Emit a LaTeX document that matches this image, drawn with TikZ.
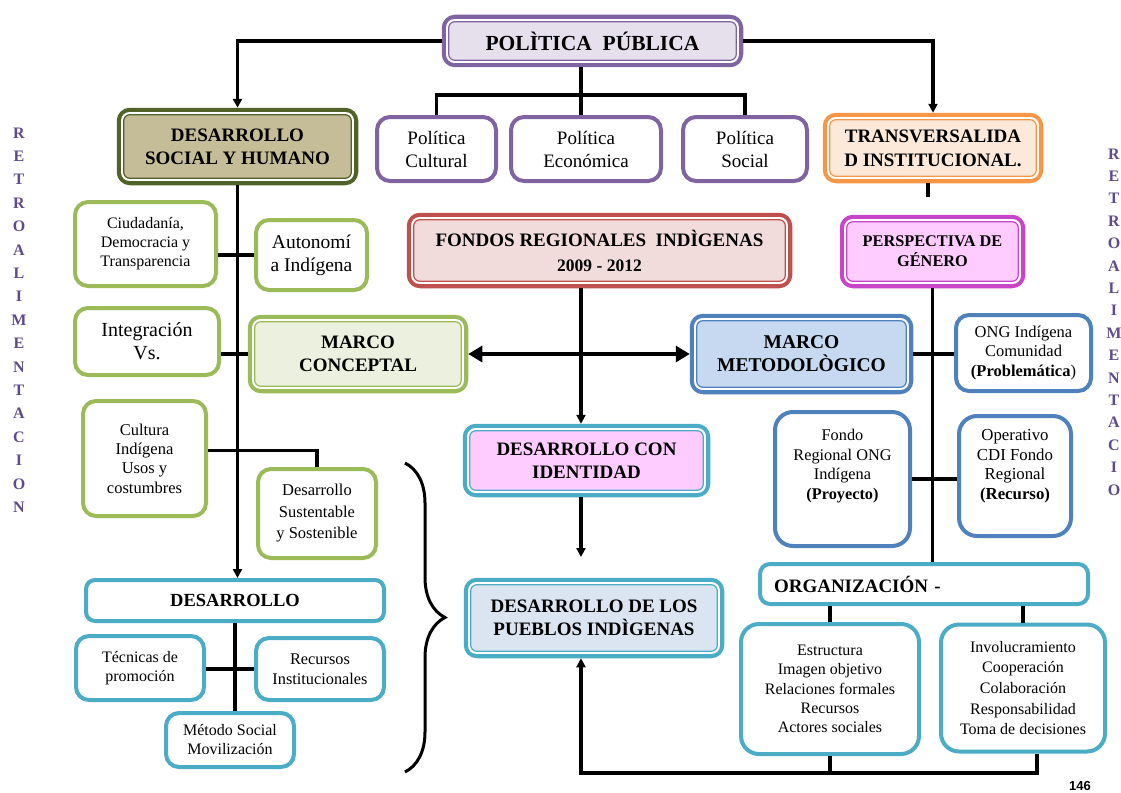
\documentclass[tikz,border=0pt]{standalone}
\usepackage{fontspec}
\setmainfont{Liberation Serif}
\setsansfont{Liberation Sans}
\usetikzlibrary{arrows.meta,decorations.pathreplacing}

\definecolor{polc}{HTML}{8064A2}
\definecolor{polf}{HTML}{E5E0EC}
\definecolor{olc}{HTML}{4F6228}
\definecolor{olf}{HTML}{C4BD97}
\definecolor{orc}{HTML}{F79646}
\definecolor{orf}{HTML}{FDE9D9}
\definecolor{rc}{HTML}{C0504D}
\definecolor{rf}{HTML}{F2DCDB}
\definecolor{mgc}{HTML}{C844C8}
\definecolor{mgf}{HTML}{FFCCFF}
\definecolor{grc}{HTML}{9BBB59}
\definecolor{grf}{HTML}{EBF1DE}
\definecolor{blc}{HTML}{4F81BD}
\definecolor{blf}{HTML}{C6D9F1}
\definecolor{tlc}{HTML}{4BACC6}
\definecolor{pbf}{HTML}{DBE5F1}
\definecolor{vtc}{HTML}{5F4B8B}

\begin{document}
\begin{tikzpicture}[x=1pt, y=-1pt,
        >={Triangle[length=9pt,width=9pt]},
        link/.style={line width=3.2pt},
        box/.style={draw=#1, fill=white, line width=4pt, rounded corners=13pt, align=center, inner sep=2pt},
        head/.style 2 args={draw=#1, fill=#2, line width=4.5pt, rounded corners=11pt, align=center, inner sep=2pt},
        vtext/.style={text=vtc, font=\bfseries\fontsize{16}{23.4}\selectfont, align=center, inner sep=0pt},
        ]
        \useasboundingbox (0,0) rectangle (1121,792);

        % top
        \node (pol) at (592.5,41) [head={polc}{polf}, minimum width=297pt, minimum height=48pt, font=\bfseries\fontsize{21.5}{25}\selectfont] {POLÌTICA\ \ PÚBLICA};
        \node (dsh) at (237.5,146.5) [head={olc}{olf}, minimum width=237pt, minimum height=73pt, font=\bfseries\fontsize{19}{23}\selectfont] {DESARROLLO\\SOCIAL Y HUMANO};
        \node (cul) at (436.5,149) [box=polc, minimum width=119pt, minimum height=64pt, font=\fontsize{19}{23}\selectfont] {Política\\Cultural};
        \node (eco) at (586,149) [box=polc, minimum width=150pt, minimum height=64pt, font=\fontsize{19}{23}\selectfont] {Política\\Económica};
        \node (soc) at (745,149) [box=polc, minimum width=124pt, minimum height=64pt, font=\fontsize{19}{23}\selectfont] {Política\\Social};
        \node (trans) at (933,148) [head={orc}{orf}, minimum width=216pt, minimum height=66pt, font=\bfseries\fontsize{19}{24}\selectfont] {TRANSVERSALIDA\\D INSTITUCIONAL.};

        % left column
        \node (ciud) at (145.5,244) [box=grc, minimum width=141pt, minimum height=84pt, font=\fontsize{16}{19}\selectfont] {Ciudadanía,\\Democracia y\\Transparencia};
        \node (auto) at (311.5,255) [box=grc, minimum width=111pt, minimum height=70pt, font=\fontsize{19.5}{23}\selectfont] {Autonomí\\a Indígena};
        \node (integ) at (147,341.5) [box=grc, minimum width=144pt, minimum height=67pt, font=\fontsize{20}{23}\selectfont] {Integración\\Vs.};
        \node (mc) at (358,354) [head={grc}{grf}, minimum width=216pt, minimum height=74pt, font=\bfseries\fontsize{19}{23}\selectfont] {MARCO\\CONCEPTAL};
        \node (cult) at (144.5,458.5) [box=grc, minimum width=123pt, minimum height=115pt, font=\fontsize{16.5}{19.3}\selectfont] {Cultura\\Indígena\\Usos y\\costumbres};
        \node (sust) at (317,513.5) [box=grc, minimum width=118pt, minimum height=89pt, font=\fontsize{16.5}{21.5}\selectfont] {Desarrollo\\Sustentable\\y Sostenible};
        \node (des) at (235,600.5) [box=tlc, rounded corners=9pt, minimum width=298pt, minimum height=41pt, font=\bfseries\fontsize{18.5}{23}\selectfont] {DESARROLLO};
        \node (tec) at (140,668) [box=tlc, minimum width=128pt, minimum height=64pt, font=\fontsize{16}{19}\selectfont] {Técnicas de\\promoción};
        \node (rec) at (320,669) [box=tlc, minimum width=128pt, minimum height=62pt, font=\fontsize{16.3}{19.5}\selectfont] {Recursos\\Institucionales};
        \node (met) at (230,740) [box=tlc, minimum width=128pt, minimum height=54pt, font=\fontsize{16}{19}\selectfont] {Método Social\\Movilización};

        % middle column
        \node (fondos) at (599.5,250.5) [head={rc}{rf}, minimum width=381pt, minimum height=71pt, font=\bfseries\fontsize{19}{25}\selectfont] {FONDOS REGIONALES\ \ INDÌGENAS\\{\fontsize{17.5}{17.5}\selectfont 2009 - 2012}};
        \node (ident) at (586.5,460.5) [head={tlc}{mgf}, minimum width=243pt, minimum height=69pt, font=\bfseries\fontsize{19}{23}\selectfont] {DESARROLLO CON\\IDENTIDAD};
        \node (pueb) at (594,618) [head={tlc}{pbf}, minimum width=256pt, minimum height=76pt, font=\bfseries\fontsize{19}{23}\selectfont] {DESARROLLO DE LOS\\PUEBLOS INDÌGENAS};

        % right column
        \node (persp) at (932.5,251.5) [head={mgc}{mgf}, minimum width=181pt, minimum height=69pt, font=\bfseries\fontsize{16.3}{20}\selectfont] {PERSPECTIVA DE\\GÉNERO};
        \node (mm) at (801.5,354) [head={blc}{blf}, minimum width=219pt, minimum height=76pt, font=\bfseries\fontsize{19.5}{23}\selectfont] {MARCO\\METODOLÒGICO};
        \node (ong) at (1023.5,353) [box=blc, minimum width=135pt, minimum height=76pt, font=\fontsize{16.5}{19.5}\selectfont] {ONG Indígena\\Comunidad\\\textbf{(Problemática})};
        \node (fondoong) at (842.5,479) [box=blc, rounded corners=18pt, minimum width=135pt, minimum height=134pt, font=\fontsize{16.3}{19.5}\selectfont] {Fondo\\Regional ONG\\Indígena\\\textbf{(Proyecto)}\\[10pt]~};
        \node (op) at (1015,476) [box=blc, rounded corners=18pt, minimum width=112pt, minimum height=120pt, font=\fontsize{16.8}{19.5}\selectfont] {Operativo\\CDI Fondo\\Regional\\\textbf{(Recurso)}\\[4pt]~};
        \node (org) at (924,584) [box=tlc, rounded corners=10pt, minimum width=328pt, minimum height=40pt, text width=300pt, align=left, font=\bfseries\fontsize{19}{23}\selectfont] {ORGANIZACIÓN -};
        \node (estr) at (830,689) [box=tlc, rounded corners=18pt, minimum width=178pt, minimum height=130pt, font=\fontsize{16}{19.2}\selectfont] {Estructura\\Imagen objetivo\\Relaciones formales\\Recursos\\Actores sociales};
        \node (inv) at (1023,688) [box=tlc, rounded corners=18pt, minimum width=164pt, minimum height=127pt, font=\fontsize{16}{20.7}\selectfont] {Involucramiento\\Cooperación\\Colaboración\\Responsabilidad\\Toma de decisiones};

        % side texts
        \node (retroizq) at (19,320) [vtext] {R\\E\\T\\R\\O\\A\\L\\I\\M\\E\\N\\T\\A\\C\\I\\O\\N};
        \node (retroder) at (1114,322) [vtext, font=\bfseries\fontsize{16}{22.4}\selectfont] {R\\E\\T\\R\\O\\A\\L\\I\\M\\E\\N\\T\\A\\C\\I\\O};
        \node (pagina) at (1080,786) [font=\sffamily\bfseries\fontsize{13}{13}\selectfont, inner sep=0pt] {146};

        % inner frames of the main boxes
        \foreach \n/\c in {pol/polc, dsh/olc, trans/orc, fondos/rc, persp/mgc, mc/grc, mm/blc, ident/tlc, pueb/tlc} {
            \draw[white, line width=2.2pt, rounded corners=7pt] ([shift={(5.5pt,-5.5pt)}]\n.north west) rectangle ([shift={(-5.5pt,5.5pt)}]\n.south east);
            \draw[\c, line width=1.2pt, rounded corners=6pt] ([shift={(7pt,-7pt)}]\n.north west) rectangle ([shift={(-7pt,7pt)}]\n.south east);
        }

        \coordinate (axis) at (581,0);
        \coordinate (transend) at (928,197);
        \coordinate (identend) at (581,557);
        \coordinate (loop) at (581,773);

        \draw[link, ->] (pol.west) -| (dsh.north);
        \draw[link, ->] (pol.east) -| (trans.north);
        \draw[link] (pol.south -| axis) -- (eco.north -| axis);
        \draw[link] (cul.north) -- ++(0,-20) -| (soc.north);
        \draw[link] (trans.south -| transend) -- (transend);

        \draw[link, ->] (dsh.south) -- (dsh.south |- des.north);
        \draw[link] (ciud.east |- auto.west) -- (auto.west);
        \draw[link] (integ.east |- mc.west) -- (mc.west);
        \draw[link] ([yshift=8pt]cult.east) -| (sust.north);
        \draw[link] (des.south) -- (des.south |- met.north);
        \draw[link] (tec.east |- rec.west) -- (rec.west);

        \draw[link, {Triangle[length=14pt,width=16pt]}-{Triangle[length=14pt,width=16pt]}] (mc.east) -- (mm.west);
        \draw[link, ->] (fondos.south -| axis) -- (ident.north -| axis);
        \draw[link, ->] (ident.south -| axis) -- (identend);

        \draw[link] (persp.south) -- (org.north -| persp.south);
        \draw[link] (mm.east) -- (mm.east -| ong.west);
        \draw[link] (fondoong.east) -- (fondoong.east -| op.west);
        \draw[link] (org.south -| estr.north) -- (estr.north);
        \draw[link] (org.south -| inv.north) -- (inv.north);
        \draw[link] (estr.south) -- (estr.south |- loop);
        \draw[link, ->] ([xshift=14pt]inv.south) |- (loop) -- (pueb.south -| loop);

        % brace
        \draw[line width=3pt, decorate, decoration={brace, amplitude=40pt}] (405,463) -- (405,772);

    \end{tikzpicture}
\end{document}
